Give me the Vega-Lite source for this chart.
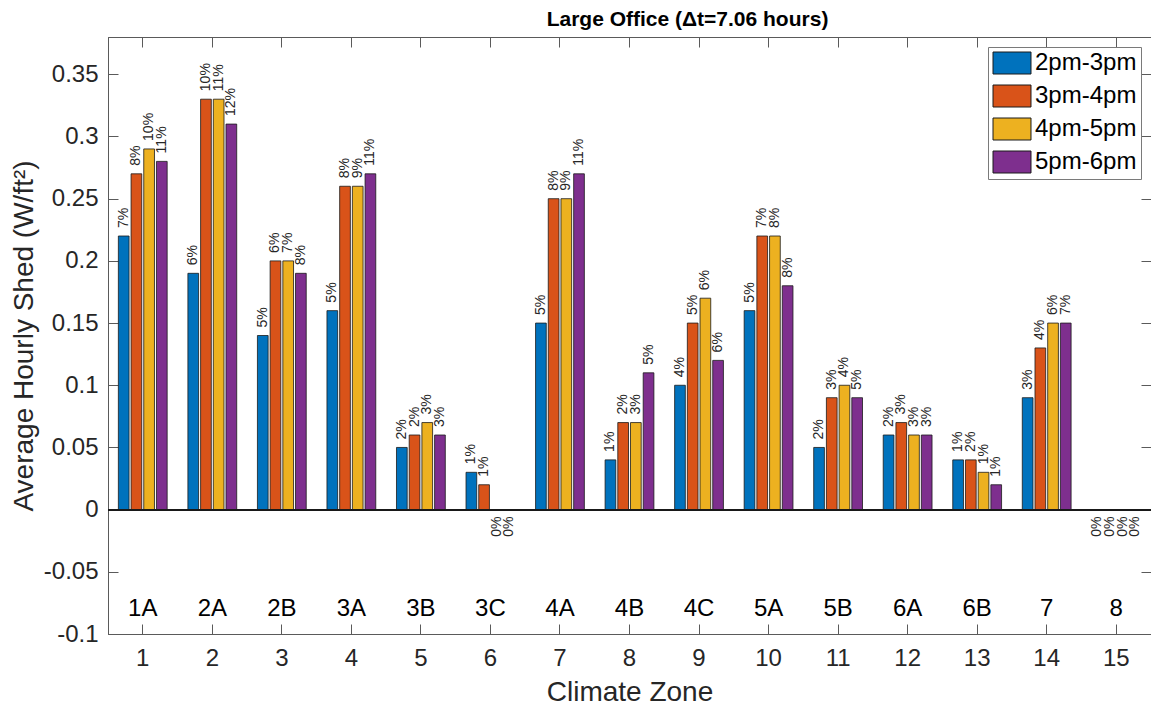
{
  "$schema": "https://vega.github.io/schema/vega-lite/v6.json",
  "autosize": "none",
  "width": 1043,
  "height": 597,
  "padding": {"left": 108, "top": 37, "right": 0, "bottom": 74},
  "background": "white",
  "title": {"text": "Large Office (\u0394t=7.06 hours)", "font": "Liberation Sans", "fontSize": 21, "fontWeight": "bold", "color": "#000000", "anchor": "middle", "frame": "group", "dx": 58, "dy": 21, "baseline": "alphabetic", "offset": 11},
  "config": {
    "font": "Liberation Sans",
    "view": {"stroke": "#5a5a5a", "strokeWidth": 1},
    "axis": {"labelFont": "Liberation Sans", "labelFontSize": 24, "labelColor": "#262626", "titleFont": "Liberation Sans", "titleFontSize": 28, "titleFontWeight": "normal", "titleColor": "#262626", "tickColor": "#5a5a5a", "domainColor": "#5a5a5a", "grid": false, "tickSize": -10, "tickWidth": 1, "domainWidth": 1}
  },
  "data": {"values": [
    {"zone": 1, "climate": "1A", "period": "2pm-3pm", "shed": 0.22, "pct": "7%"},
    {"zone": 1, "climate": "1A", "period": "3pm-4pm", "shed": 0.27, "pct": "8%"},
    {"zone": 1, "climate": "1A", "period": "4pm-5pm", "shed": 0.29, "pct": "10%"},
    {"zone": 1, "climate": "1A", "period": "5pm-6pm", "shed": 0.28, "pct": "11%"},
    {"zone": 2, "climate": "2A", "period": "2pm-3pm", "shed": 0.19, "pct": "6%"},
    {"zone": 2, "climate": "2A", "period": "3pm-4pm", "shed": 0.33, "pct": "10%"},
    {"zone": 2, "climate": "2A", "period": "4pm-5pm", "shed": 0.33, "pct": "11%"},
    {"zone": 2, "climate": "2A", "period": "5pm-6pm", "shed": 0.31, "pct": "12%"},
    {"zone": 3, "climate": "2B", "period": "2pm-3pm", "shed": 0.14, "pct": "5%"},
    {"zone": 3, "climate": "2B", "period": "3pm-4pm", "shed": 0.20, "pct": "6%"},
    {"zone": 3, "climate": "2B", "period": "4pm-5pm", "shed": 0.20, "pct": "7%"},
    {"zone": 3, "climate": "2B", "period": "5pm-6pm", "shed": 0.19, "pct": "8%"},
    {"zone": 4, "climate": "3A", "period": "2pm-3pm", "shed": 0.16, "pct": "5%"},
    {"zone": 4, "climate": "3A", "period": "3pm-4pm", "shed": 0.26, "pct": "8%"},
    {"zone": 4, "climate": "3A", "period": "4pm-5pm", "shed": 0.26, "pct": "9%"},
    {"zone": 4, "climate": "3A", "period": "5pm-6pm", "shed": 0.27, "pct": "11%"},
    {"zone": 5, "climate": "3B", "period": "2pm-3pm", "shed": 0.05, "pct": "2%"},
    {"zone": 5, "climate": "3B", "period": "3pm-4pm", "shed": 0.06, "pct": "2%"},
    {"zone": 5, "climate": "3B", "period": "4pm-5pm", "shed": 0.07, "pct": "3%"},
    {"zone": 5, "climate": "3B", "period": "5pm-6pm", "shed": 0.06, "pct": "3%"},
    {"zone": 6, "climate": "3C", "period": "2pm-3pm", "shed": 0.03, "pct": "1%"},
    {"zone": 6, "climate": "3C", "period": "3pm-4pm", "shed": 0.02, "pct": "1%"},
    {"zone": 6, "climate": "3C", "period": "4pm-5pm", "shed": 0, "pct": "0%"},
    {"zone": 6, "climate": "3C", "period": "5pm-6pm", "shed": 0, "pct": "0%"},
    {"zone": 7, "climate": "4A", "period": "2pm-3pm", "shed": 0.15, "pct": "5%"},
    {"zone": 7, "climate": "4A", "period": "3pm-4pm", "shed": 0.25, "pct": "8%"},
    {"zone": 7, "climate": "4A", "period": "4pm-5pm", "shed": 0.25, "pct": "9%"},
    {"zone": 7, "climate": "4A", "period": "5pm-6pm", "shed": 0.27, "pct": "11%"},
    {"zone": 8, "climate": "4B", "period": "2pm-3pm", "shed": 0.04, "pct": "1%"},
    {"zone": 8, "climate": "4B", "period": "3pm-4pm", "shed": 0.07, "pct": "2%"},
    {"zone": 8, "climate": "4B", "period": "4pm-5pm", "shed": 0.07, "pct": "3%"},
    {"zone": 8, "climate": "4B", "period": "5pm-6pm", "shed": 0.11, "pct": "5%"},
    {"zone": 9, "climate": "4C", "period": "2pm-3pm", "shed": 0.10, "pct": "4%"},
    {"zone": 9, "climate": "4C", "period": "3pm-4pm", "shed": 0.15, "pct": "5%"},
    {"zone": 9, "climate": "4C", "period": "4pm-5pm", "shed": 0.17, "pct": "6%"},
    {"zone": 9, "climate": "4C", "period": "5pm-6pm", "shed": 0.12, "pct": "6%"},
    {"zone": 10, "climate": "5A", "period": "2pm-3pm", "shed": 0.16, "pct": "5%"},
    {"zone": 10, "climate": "5A", "period": "3pm-4pm", "shed": 0.22, "pct": "7%"},
    {"zone": 10, "climate": "5A", "period": "4pm-5pm", "shed": 0.22, "pct": "8%"},
    {"zone": 10, "climate": "5A", "period": "5pm-6pm", "shed": 0.18, "pct": "8%"},
    {"zone": 11, "climate": "5B", "period": "2pm-3pm", "shed": 0.05, "pct": "2%"},
    {"zone": 11, "climate": "5B", "period": "3pm-4pm", "shed": 0.09, "pct": "3%"},
    {"zone": 11, "climate": "5B", "period": "4pm-5pm", "shed": 0.10, "pct": "4%"},
    {"zone": 11, "climate": "5B", "period": "5pm-6pm", "shed": 0.09, "pct": "5%"},
    {"zone": 12, "climate": "6A", "period": "2pm-3pm", "shed": 0.06, "pct": "2%"},
    {"zone": 12, "climate": "6A", "period": "3pm-4pm", "shed": 0.07, "pct": "3%"},
    {"zone": 12, "climate": "6A", "period": "4pm-5pm", "shed": 0.06, "pct": "3%"},
    {"zone": 12, "climate": "6A", "period": "5pm-6pm", "shed": 0.06, "pct": "3%"},
    {"zone": 13, "climate": "6B", "period": "2pm-3pm", "shed": 0.04, "pct": "1%"},
    {"zone": 13, "climate": "6B", "period": "3pm-4pm", "shed": 0.04, "pct": "2%"},
    {"zone": 13, "climate": "6B", "period": "4pm-5pm", "shed": 0.03, "pct": "1%"},
    {"zone": 13, "climate": "6B", "period": "5pm-6pm", "shed": 0.02, "pct": "1%"},
    {"zone": 14, "climate": "7", "period": "2pm-3pm", "shed": 0.09, "pct": "3%"},
    {"zone": 14, "climate": "7", "period": "3pm-4pm", "shed": 0.13, "pct": "4%"},
    {"zone": 14, "climate": "7", "period": "4pm-5pm", "shed": 0.15, "pct": "6%"},
    {"zone": 14, "climate": "7", "period": "5pm-6pm", "shed": 0.15, "pct": "7%"},
    {"zone": 15, "climate": "8", "period": "2pm-3pm", "shed": 0, "pct": "0%"},
    {"zone": 15, "climate": "8", "period": "3pm-4pm", "shed": 0, "pct": "0%"},
    {"zone": 15, "climate": "8", "period": "4pm-5pm", "shed": 0, "pct": "0%"},
    {"zone": 15, "climate": "8", "period": "5pm-6pm", "shed": 0, "pct": "0%"}
  ]},
  "layer": [
    {
      "mark": {"type": "bar", "stroke": "#1a1a1a", "strokeWidth": 0.8},
      "transform": [{"filter": "datum.shed > 0"}],
      "encoding": {
        "x": {"field": "zone", "type": "ordinal", "scale": {"paddingInner": 0, "paddingOuter": 0}, "axis": {"orient": "bottom", "title": "Climate Zone", "labelAngle": 0, "labelPadding": 22, "titlePadding": 8}},
        "xOffset": {"field": "period", "type": "nominal", "scale": {"domain": ["2pm-3pm", "3pm-4pm", "4pm-5pm", "5pm-6pm"], "paddingInner": 0.157, "paddingOuter": 0.816}},
        "y": {"field": "shed", "type": "quantitative", "scale": {"domain": [-0.1, 0.38], "nice": false, "zero": false}, "axis": {"orient": "left", "title": "Average Hourly Shed (W/ft\u00b2)", "values": [-0.1, -0.05, 0, 0.05, 0.1, 0.15, 0.2, 0.25, 0.3, 0.35], "labelExpr": "replace(format(datum.value, '.2~f'), '\u2212', '-')", "labelPadding": 20, "titlePadding": 5}},
        "fill": {"field": "period", "type": "nominal", "scale": {"domain": ["2pm-3pm", "3pm-4pm", "4pm-5pm", "5pm-6pm"], "range": ["#0072BD", "#D95319", "#EDB120", "#7E2F8E"]},
          "legend": {"title": null, "orient": "none", "legendX": 880, "legendY": 10, "symbolType": "M-1.727,-1H1.727V1H-1.727Z", "symbolSize": 484, "symbolStrokeColor": "#1a1a1a", "symbolStrokeWidth": 1, "symbolOpacity": 1, "labelFontSize": 24, "labelFont": "Liberation Sans", "labelColor": "#000000", "labelOffset": 11, "symbolOffset": 8, "rowPadding": 7, "padding": 4, "fillColor": "white", "strokeColor": "#7a7a7a", "labelLimit": 300}}
      }
    },
    {
      "mark": {"type": "text", "angle": 270, "align": "left", "baseline": "middle", "dx": 8, "fontSize": 14, "font": "Liberation Sans", "fill": "#262626"},
      "transform": [{"filter": "datum.shed > 0"}],
      "encoding": {
        "x": {"field": "zone", "type": "ordinal", "axis": {"orient": "top", "title": null, "labels": false}},
        "xOffset": {"field": "period", "type": "nominal"},
        "y": {"field": "shed", "type": "quantitative", "axis": {"orient": "right", "title": null, "labels": false, "values": [-0.1, -0.05, 0, 0.05, 0.1, 0.15, 0.2, 0.25, 0.3, 0.35]}},
        "text": {"field": "pct"}
      }
    },
    {
      "mark": {"type": "text", "angle": 270, "align": "right", "baseline": "middle", "dx": -7, "fontSize": 14, "font": "Liberation Sans", "fill": "#262626"},
      "transform": [{"filter": "datum.shed == 0"}],
      "encoding": {
        "x": {"field": "zone", "type": "ordinal", "axis": null},
        "xOffset": {"field": "period", "type": "nominal"},
        "y": {"field": "shed", "type": "quantitative", "axis": null},
        "text": {"field": "pct"}
      }
    },
    {
      "mark": {"type": "text", "align": "center", "baseline": "middle", "fontSize": 24, "font": "Liberation Sans", "fill": "#000000"},
      "transform": [{"filter": "datum.period == '2pm-3pm'"}],
      "encoding": {
        "x": {"field": "zone", "type": "ordinal", "axis": null},
        "y": {"datum": -0.08, "type": "quantitative", "axis": null},
        "text": {"field": "climate"}
      }
    },
    {
      "mark": {"type": "rule", "stroke": "#1a1a1a", "strokeWidth": 1},
      "encoding": {"y": {"datum": 0, "type": "quantitative", "axis": null}}
    }
  ],
  "resolve": {"axis": {"x": "independent", "y": "independent"}}
}
